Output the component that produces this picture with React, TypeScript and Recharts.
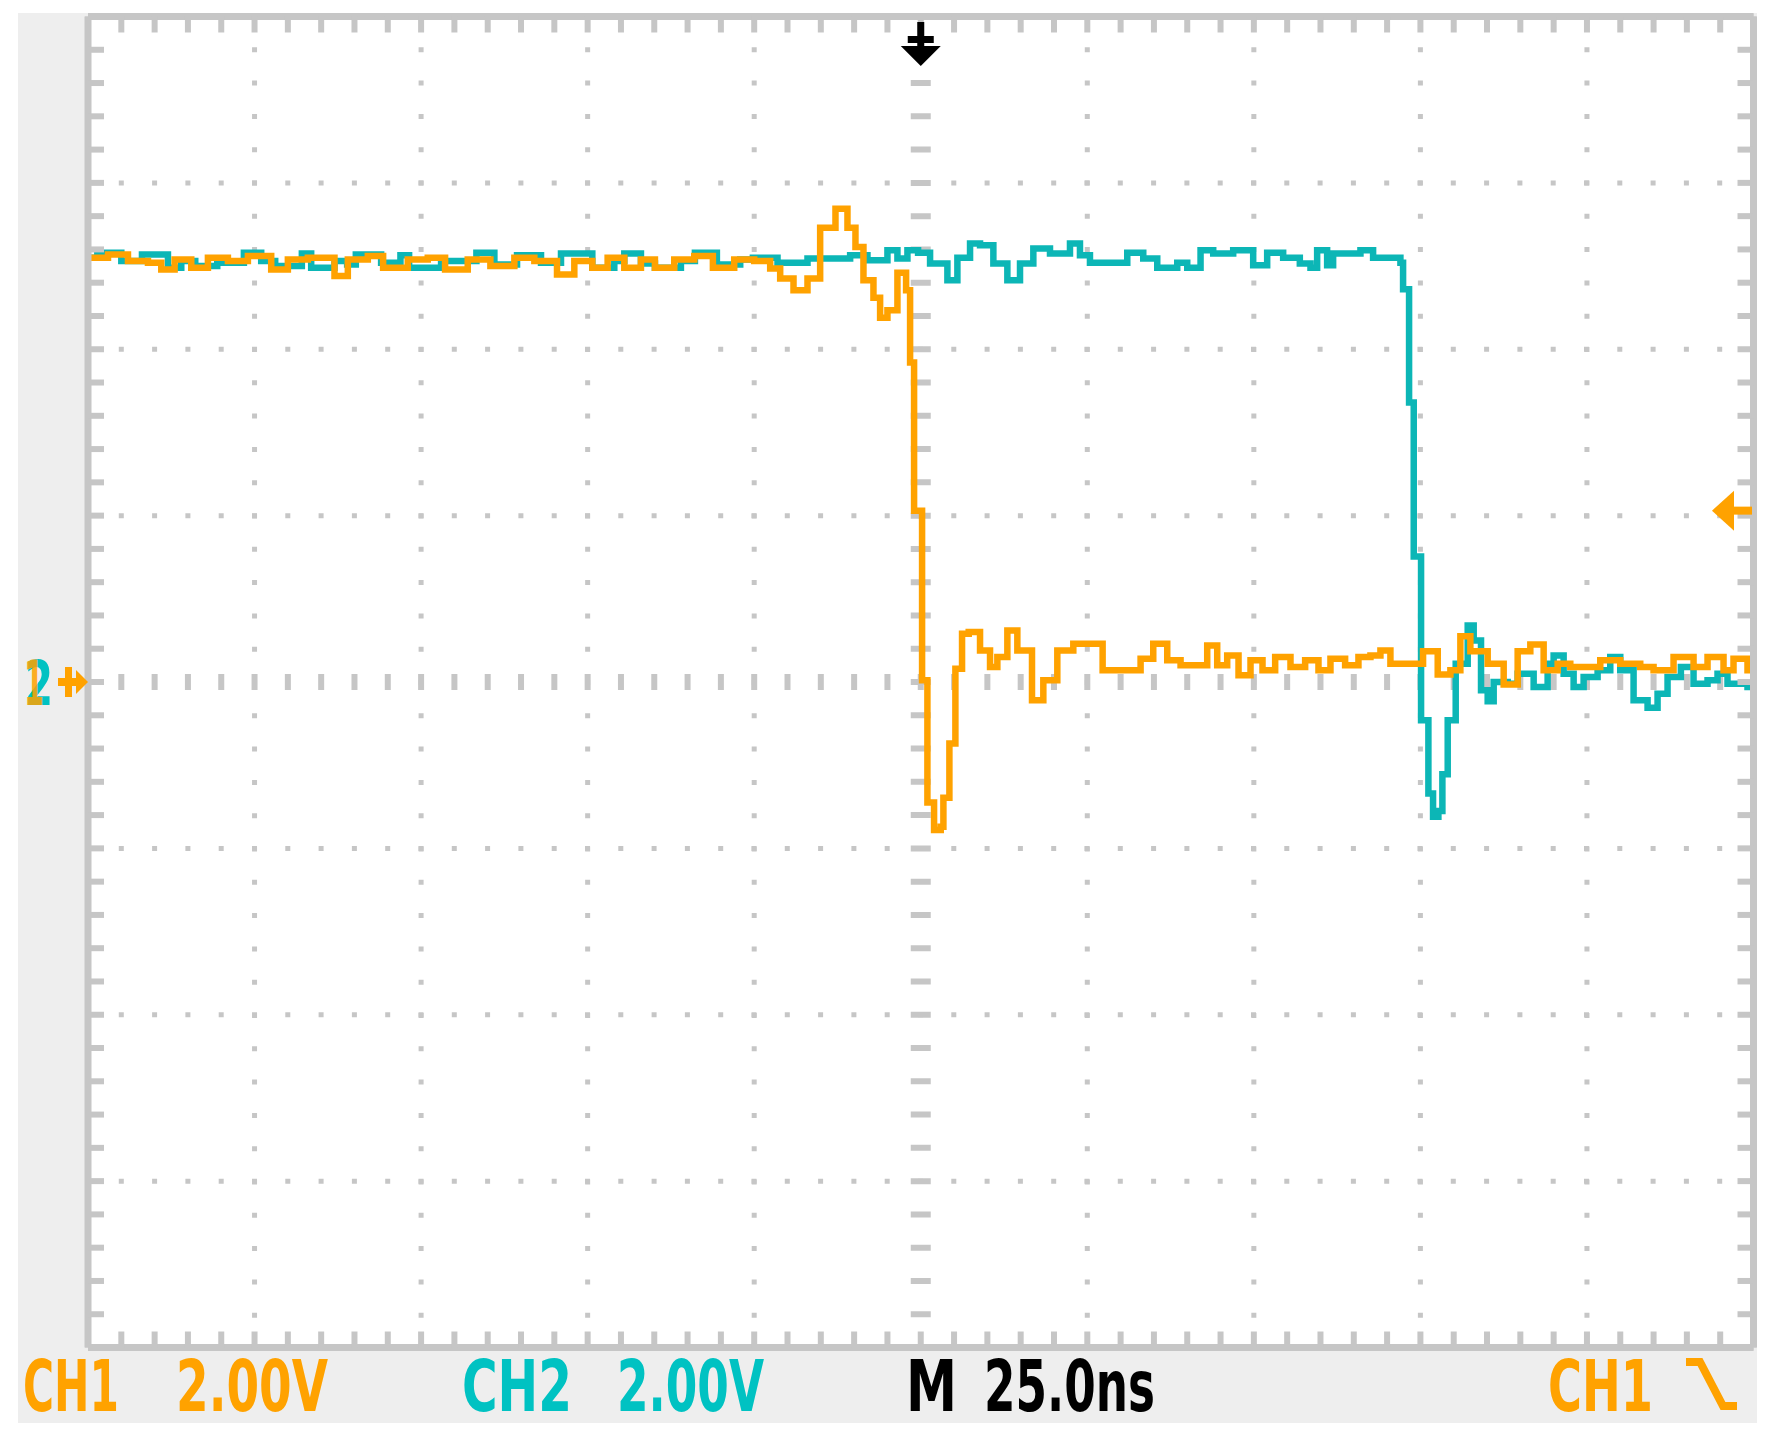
import { LineChart, Line, XAxis, YAxis, CartesianGrid } from "recharts";

// Oscilloscope capture: CH1 (orange) and CH2 (cyan), 2 V/div, 25 ns/div.
// Time is in ns relative to the trigger point, voltage in V.

const ORANGE = "#ffa200";
const CYAN = "#0cb6b6";
const CYAN_TEXT = "#00c2c2";
const GRID = "#c6c6c6";
const PANEL = "#eeeeee";

const W = 1776;
const H = 1444;
const M = { top: 16.5, right: 22.5, bottom: 96.5, left: 88 };
const PW = W - M.left - M.right;
const PH = H - M.top - M.bottom;

const T_DOMAIN: [number, number] = [-125, 125];
const V_DOMAIN: [number, number] = [-8, 8];

const timeTicks = [
  -125, -120, -115, -110, -105, -100, -95, -90, -85, -80, -75, -70, -65, -60, -55, -50, -45, -40,
  -35, -30, -25, -20, -15, -10, -5, 0, 5, 10, 15, 20, 25, 30, 35, 40, 45, 50, 55, 60, 65, 70, 75,
  80, 85, 90, 95, 100, 105, 110, 115, 120, 125,
];
const voltTicks = [
  -8, -7.6, -7.2, -6.8, -6.4, -6, -5.6, -5.2, -4.8, -4.4, -4, -3.6, -3.2, -2.8, -2.4, -2, -1.6,
  -1.2, -0.8, -0.4, 0, 0.4, 0.8, 1.2, 1.6, 2, 2.4, 2.8, 3.2, 3.6, 4, 4.4, 4.8, 5.2, 5.6, 6, 6.4,
  6.8, 7.2, 7.6, 8,
];
const majorTime = [-100, -75, -50, -25, 25, 50, 75, 100];
const majorVolt = [-6, -4, -2, 2, 4, 6];

const trigTime = 0;
const trigLevel = 2.06;

// CH1 (orange)
const ch1T = [
  -125, -122, -119, -116, -114, -112, -109.5, -107, -104, -101, -97.5, -95, -92, -88, -86, -83,
  -80.7, -77, -74, -71.4, -68, -64.6, -61, -58, -54.6, -52, -49.3, -47, -44.5, -42, -39.9, -37,
  -34, -31.2, -28, -25, -22.6, -21.1, -19.1, -17.0, -15.1, -12.8, -11.0, -9.8, -8.6, -7.1, -6.1,
  -5.0, -3.5, -2.6, -2.2, -1.6, -1.0, 0.2, 1.0, 2.0, 3.0, 3.4, 4.3, 5.2, 6.2, 7.2, 8.9, 10.4,
  11.5, 13.0, 14.5, 16.7, 18.4, 20.5, 22.9, 25.0, 27.3, 30.0, 33.0, 34.9, 37.0, 39.0, 42.0, 43.0,
  44.5, 46.0, 47.7, 49.5, 51.3, 53.2, 55.5, 57.7, 59.7, 61.5, 63.7, 65.7, 67.5, 69.0, 70.5, 73.9,
  75.4, 77.6, 79.5, 81.0, 82.5, 85.1, 87.5, 89.6, 91.5, 93.5, 95.6, 97.5, 100.5, 102.0, 105.0,
  108.0, 110.0, 113.0, 116.0, 118.1, 120.5, 122.0, 124.1, 125,
];
const ch1V = [
  5.1, 5.14, 5.06, 5.04, 4.96, 5.08, 4.98, 5.1, 5.06, 5.12, 4.96, 5.08, 5.1, 4.88, 5.08, 5.12,
  4.98, 5.08, 5.1, 4.96, 5.08, 5.0, 5.1, 5.06, 4.9, 5.06, 4.98, 5.1, 4.98, 5.08, 4.98, 5.08,
  5.12, 4.98, 5.08, 5.06, 4.97, 4.85, 4.71, 4.85, 5.46, 5.69, 5.46, 5.23, 4.83, 4.62, 4.38,
  4.47, 4.92, 4.92, 4.71, 3.84, 2.06, 0.02, -1.45, -1.78, -1.74, -1.39, -0.74, 0.16, 0.58, 0.6,
  0.38, 0.18, 0.3, 0.62, 0.38, -0.22, 0.02, 0.38, 0.46, 0.46, 0.14, 0.14, 0.28, 0.46, 0.26, 0.2,
  0.2, 0.44, 0.2, 0.32, 0.08, 0.26, 0.14, 0.3, 0.18, 0.26, 0.14, 0.28, 0.2, 0.3, 0.32, 0.38, 0.22,
  0.22, 0.37, 0.09, 0.14, 0.55, 0.37, 0.22, -0.03, 0.37, 0.45, 0.14, 0.22, 0.18, 0.18, 0.26, 0.22,
  0.18, 0.14, 0.3, 0.18, 0.3, 0.14, 0.28, 0.14, 0.14,
];

// CH2 (cyan)
const ch2T = [
  -125, -123.6, -120, -116.9, -113.0, -111, -108.9, -105.6, -101.6, -99, -96.9, -92.9, -91.5,
  -88, -86.1, -84.8, -81, -78.1, -76.8, -72, -66.7, -64.0, -60.6, -57, -54.0, -49.3, -46, -44.5,
  -42, -39.9, -36, -33.9, -30.6, -27.1, -25.2, -22.6, -21.5, -19.1, -17.0, -12.1, -10.6, -8.6,
  -8.0, -5.6, -5.0, -3.5, -2.0, -0.4, 1.4, 4.0, 5.5, 7.4, 8.9, 10.9, 13.0, 14.9, 16.9, 19.4,
  22.4, 23.9, 25.4, 28.5, 31.0, 33.4, 35.5, 38.5, 40.0, 42.0, 43.9, 46.9, 49.9, 52.0, 54.4, 56.9,
  58.5, 59.5, 61.0, 61.9, 66.0, 67.9, 70.5, 72.0, 72.4, 73.1, 73.3, 73.8, 74.0, 74.8, 75.1, 75.9,
  76.2, 76.9, 77.7, 78.3, 79.1, 80.3, 82.1, 83.0, 84.1, 85.1, 86.0, 88.1, 89.6, 92.0, 94.1,
  95.0, 96.5, 98.0, 99.5, 101.6, 103.5, 105.0, 107.0, 109.1, 110.6, 112.1, 114.1, 116.0, 118.1,
  119.6, 121.1, 124.1, 125,
];
const ch2V = [
  5.1, 5.16, 5.06, 5.14, 4.98, 5.06, 5.0, 5.04, 5.16, 5.06, 5.0, 5.15, 4.98, 5.06, 5.02, 5.14,
  5.04, 5.13, 4.98, 5.06, 5.16, 5.02, 5.13, 5.04, 5.15, 4.98, 5.06, 5.15, 5.03, 4.98, 5.06, 5.16,
  5.02, 5.08, 5.1, 5.1, 5.04, 5.04, 5.09, 5.09, 5.13, 5.13, 5.07, 5.07, 5.19, 5.09, 5.19, 5.16,
  5.03, 4.83, 5.1, 5.27, 5.25, 5.03, 4.83, 5.03, 5.21, 5.15, 5.27, 5.13, 5.04, 5.04, 5.16, 5.09,
  4.98, 5.04, 4.98, 5.19, 5.15, 5.19, 5.01, 5.16, 5.1, 5.03, 4.98, 5.19, 5.01, 5.15, 5.19, 5.1,
  5.1, 5.04, 4.72, 4.72, 3.36, 3.36, 1.51, 1.51, -0.46, -0.46, -1.34, -1.62, -1.55, -1.11, -0.46,
  0.22, 0.68, 0.5, -0.1, -0.23, 0.0, -0.02, 0.1, -0.06, 0.22, 0.32, 0.1, -0.06, 0.06, 0.14, 0.3,
  0.14, -0.22, -0.31, -0.14, 0.06, 0.18, -0.02, 0.02, 0.1, -0.02, -0.06, -0.06,
];

const ch1Data = ch1T.map((t, i) => ({ t, v: ch1V[i] }));
const ch2Data = ch2T.map((t, i) => ({ t, v: ch2V[i] }));

const xPx = (t: number) => M.left + ((t - T_DOMAIN[0]) / (T_DOMAIN[1] - T_DOMAIN[0])) * PW;
const yPx = (v: number) => M.top + ((V_DOMAIN[1] - v) / (V_DOMAIN[1] - V_DOMAIN[0])) * PH;

const blank = () => "";
const tickLine = { stroke: GRID, strokeWidth: 6 };
const axisLine = { stroke: GRID, strokeWidth: 7 };

function Overlay() {
  const tx = xPx(trigTime);
  const ty = yPx(trigLevel);
  const gy = yPx(0);
  const label = { fontFamily: "DejaVu Sans", fontWeight: 700, fontSize: 72 } as const;
  return (
    <svg
      width={W}
      height={H}
      style={{ position: "absolute", left: 0, top: 0, pointerEvents: "none" }}
    >
      {/* trigger position marker */}
      <rect x={tx - 3.5} y={22} width={7} height={28} fill="#000" />
      <rect x={tx - 13} y={36} width={26} height={7} fill="#000" />
      <polygon points={`${tx - 20},${46} ${tx + 20},${46} ${tx},${66}`} fill="#000" />

      {/* trigger level marker */}
      <polygon
        points={`${1712},${ty} ${1734},${ty - 20} ${1734},${ty + 20}`}
        fill={ORANGE}
      />
      <rect x={1728} y={ty - 4} width={24} height={8} fill={ORANGE} />

      {/* ground reference markers */}
      <text x={25} y={gy + 23} fill={CYAN_TEXT} {...label} fontSize={62} textLength={28} lengthAdjust="spacingAndGlyphs">
        2
      </text>
      <text x={24} y={gy + 23} fill={ORANGE} {...label} fontSize={62} textLength={20} lengthAdjust="spacingAndGlyphs" opacity={0.85}>
        1
      </text>
      <rect x={58} y={gy - 4} width={20} height={8} fill={ORANGE} />
      <rect x={65} y={gy - 15} width={7} height={30} fill={ORANGE} />
      <polygon points={`${76},${gy - 12} ${88},${gy} ${76},${gy + 12}`} fill={ORANGE} />

      {/* status line */}
      <text x={23} y={1411} fill={ORANGE} {...label} textLength={96} lengthAdjust="spacingAndGlyphs">
        CH1
      </text>
      <text x={176} y={1411} fill={ORANGE} {...label} textLength={152} lengthAdjust="spacingAndGlyphs">
        2.00V
      </text>
      <text x={462} y={1411} fill={CYAN_TEXT} {...label} textLength={110} lengthAdjust="spacingAndGlyphs">
        CH2
      </text>
      <text x={617} y={1411} fill={CYAN_TEXT} {...label} textLength={147} lengthAdjust="spacingAndGlyphs">
        2.00V
      </text>
      <text x={906} y={1411} fill="#000" {...label} textLength={51} lengthAdjust="spacingAndGlyphs">
        M
      </text>
      <text x={984} y={1411} fill="#000" {...label} textLength={171} lengthAdjust="spacingAndGlyphs">
        25.0ns
      </text>
      <text x={1548} y={1411} fill={ORANGE} {...label} textLength={105} lengthAdjust="spacingAndGlyphs">
        CH1
      </text>
      <path
        d="M1686 1362 H1700 L1723 1406 H1737"
        stroke={ORANGE}
        strokeWidth={8}
        fill="none"
      />
    </svg>
  );
}

export default function App() {
  return (
    <div style={{ position: "absolute", left: 0, top: 0, width: W, height: H, background: "#fff" }}>
      <div
        style={{ position: "absolute", left: 18, top: 13, width: 1739, height: 1410, background: PANEL }}
      />
      <div
        style={{ position: "absolute", left: M.left, top: M.top, width: PW, height: PH, background: "#fff" }}
      />
      <div style={{ position: "absolute", left: 0, top: 0 }}>
        <LineChart width={W} height={H} margin={M}>
          <CartesianGrid
            horizontalValues={majorVolt}
            verticalValues={majorTime}
            stroke={GRID}
            strokeWidth={5}
            strokeDasharray="5 28.3"
            strokeDashoffset={2.5}
          />
          <CartesianGrid
            horizontalValues={[0]}
            vertical={false}
            stroke={GRID}
            strokeWidth={16}
            strokeDasharray="6 27.31"
            strokeDashoffset={3}
          />
          <CartesianGrid
            verticalValues={[0]}
            horizontal={false}
            stroke={GRID}
            strokeWidth={20}
            strokeDasharray="6 27.275"
            strokeDashoffset={3}
          />
          <XAxis
            xAxisId={0}
            type="number"
            dataKey="t"
            domain={T_DOMAIN}
            allowDataOverflow
            ticks={timeTicks}
            interval={0}
            orientation="bottom"
            mirror
            tickSize={16}
            tickLine={tickLine}
            axisLine={axisLine}
            tickFormatter={blank}
          />
          <XAxis
            xAxisId="top"
            type="number"
            dataKey="t"
            domain={T_DOMAIN}
            allowDataOverflow
            ticks={timeTicks}
            interval={0}
            orientation="top"
            mirror
            tickSize={16}
            tickLine={tickLine}
            axisLine={axisLine}
            tickFormatter={blank}
          />
          <YAxis
            yAxisId={0}
            type="number"
            domain={V_DOMAIN}
            allowDataOverflow
            ticks={voltTicks}
            interval={0}
            orientation="left"
            mirror
            tickSize={16}
            tickLine={tickLine}
            axisLine={axisLine}
            tickFormatter={blank}
          />
          <YAxis
            yAxisId="right"
            type="number"
            domain={V_DOMAIN}
            allowDataOverflow
            ticks={voltTicks}
            interval={0}
            orientation="right"
            mirror
            tickSize={16}
            tickLine={tickLine}
            axisLine={axisLine}
            tickFormatter={blank}
          />
          <Line
            data={ch2Data}
            dataKey="v"
            type="stepAfter"
            stroke={CYAN}
            strokeWidth={6.5}
            strokeLinejoin="miter"
            dot={false}
            isAnimationActive={false}
          />
          <Line
            data={ch1Data}
            dataKey="v"
            type="stepAfter"
            stroke={ORANGE}
            strokeWidth={6.5}
            strokeLinejoin="miter"
            dot={false}
            isAnimationActive={false}
          />
        </LineChart>
      </div>
      <Overlay />
    </div>
  );
}
